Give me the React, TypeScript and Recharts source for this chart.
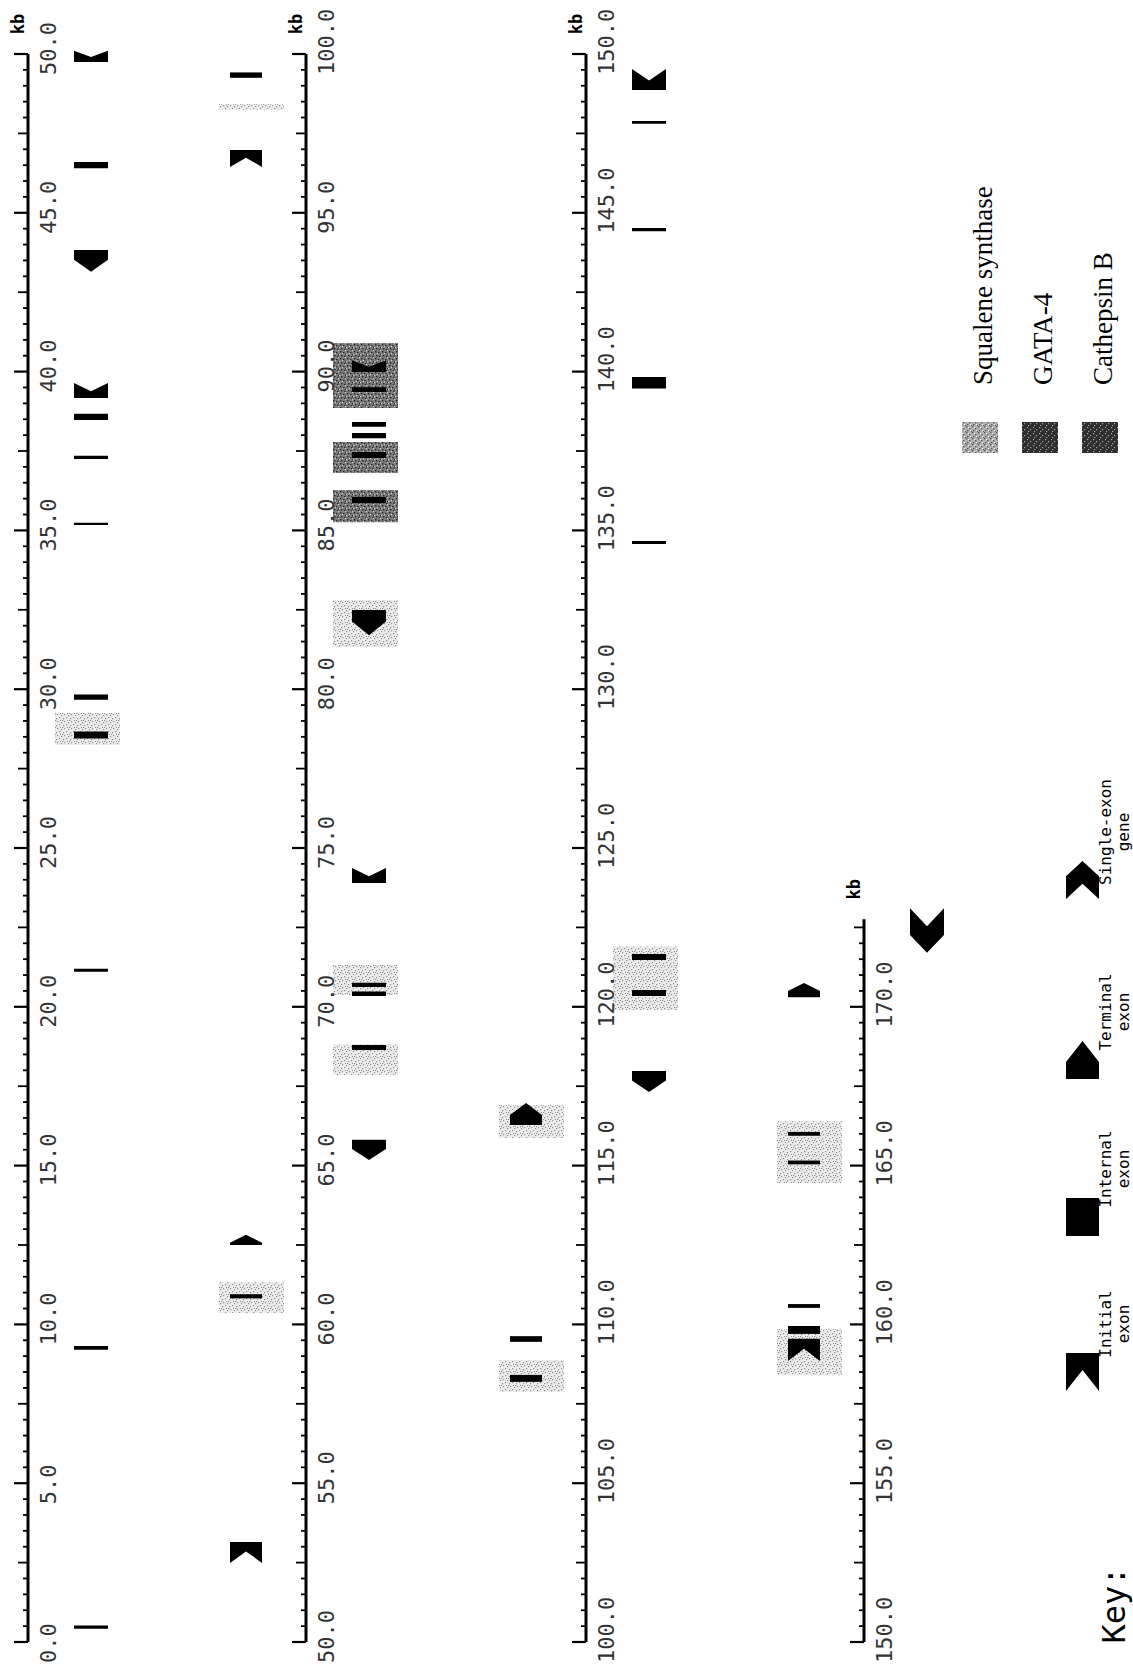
import React from 'react';
import { ComposedChart, XAxis, YAxis, ReferenceArea } from 'recharts';

type Kind = 'initial' | 'internal' | 'terminal' | 'single';
type Gene = 'sq' | 'gata' | 'cat';
type Exon = [number, number, Kind];

// kb windows drawn as separate rows (rotated page)
const trackStarts = [0, 50, 100, 150];
const trackEnds = [50, 100, 150, 172.76];

// predicted exons on the forward strand [start kb, end kb, kind]
const plusExons: Exon[] = [
  [52.49, 53.15, 'initial'],
  [60.82, 60.95, 'internal'],
  [62.5, 62.82, 'terminal'],
  [96.44, 96.98, 'initial'],
  [99.25, 99.42, 'internal'],
  [108.19, 108.41, 'internal'],
  [109.45, 109.63, 'internal'],
  [116.28, 116.97, 'terminal'],
  [158.85, 159.55, 'initial'],
  [159.7, 159.95, 'internal'],
  [160.52, 160.64, 'internal'],
  [165.04, 165.16, 'internal'],
  [165.94, 166.06, 'internal'],
  [170.3, 170.75, 'terminal'],
];

// predicted exons on the reverse strand
const minusExons: Exon[] = [
  [0.42, 0.52, 'internal'],
  [9.2, 9.32, 'internal'],
  [21.1, 21.2, 'internal'],
  [28.45, 28.67, 'internal'],
  [29.67, 29.83, 'internal'],
  [35.17, 35.24, 'internal'],
  [37.25, 37.35, 'internal'],
  [38.48, 38.67, 'internal'],
  [39.17, 39.64, 'initial'],
  [43.14, 43.83, 'terminal'],
  [46.4, 46.6, 'internal'],
  [49.75, 50.1, 'initial'],
  [65.18, 65.81, 'terminal'],
  [68.64, 68.8, 'internal'],
  [70.34, 70.48, 'internal'],
  [70.62, 70.76, 'internal'],
  [73.9, 74.37, 'initial'],
  [81.7, 82.49, 'terminal'],
  [85.86, 86.05, 'internal'],
  [87.28, 87.47, 'internal'],
  [87.9, 88.07, 'internal'],
  [88.26, 88.41, 'internal'],
  [89.36, 89.51, 'internal'],
  [89.99, 90.36, 'initial'],
  [117.32, 117.98, 'terminal'],
  [120.34, 120.53, 'internal'],
  [121.47, 121.66, 'internal'],
  [134.57, 134.67, 'internal'],
  [139.47, 139.83, 'internal'],
  [144.42, 144.52, 'internal'],
  [147.8, 147.89, 'internal'],
  [148.87, 149.53, 'initial'],
  [171.7, 173.1, 'single'],
];

// homology boxes [start kb, end kb, gene]
const plusBoxes: [number, number, Gene][] = [
  [60.36, 61.33, 'sq'],
  [98.25, 98.42, 'sq'],
  [107.87, 108.88, 'sq'],
  [115.87, 116.9, 'sq'],
  [158.4, 159.85, 'sq'],
  [164.45, 166.4, 'sq'],
];
const minusBoxes: [number, number, Gene][] = [
  [28.24, 29.25, 'sq'],
  [67.85, 68.81, 'sq'],
  [70.37, 71.32, 'sq'],
  [81.33, 82.81, 'sq'],
  [85.26, 86.27, 'gata'],
  [86.81, 87.78, 'gata'],
  [88.85, 90.9, 'cat'],
  [119.9, 121.9, 'sq'],
];

const geneLabels: Record<Gene, string> = { sq: 'Squalene synthase', gata: 'GATA-4', cat: 'Cathepsin B' };
const geneOrder: Gene[] = ['sq', 'gata', 'cat'];

const keyKinds: Kind[] = ['initial', 'internal', 'terminal', 'single'];
const keyLabels = [['Initial', 'exon'], ['Internal', 'exon'], ['Terminal', 'exon'], ['Single-exon', 'gene']];

const axisX = [28, 306, 586, 864];
const PLOT_TOP = 54;
const PLOT_BOTTOM = 1642;
const LEFT_W = 100;
const RIGHT_W = 130;
const MONO = '"DejaVu Sans Mono", monospace';

function exonPoints(kind: Kind, minus: boolean, x: number, y: number, w: number, h: number) {
  const r = x + w;
  const b = y + h;
  const m = x + w / 2;
  if (kind === 'internal') return `${x},${y} ${r},${y} ${r},${b} ${x},${b}`;
  if (kind === 'initial') {
    const d = h * 0.55;
    return minus
      ? `${x},${y} ${m},${y + d} ${r},${y} ${r},${b} ${x},${b}`
      : `${x},${y} ${r},${y} ${r},${b} ${m},${b - d} ${x},${b}`;
  }
  if (kind === 'terminal') {
    const d = Math.min(h, Math.max(h * 0.55, 8));
    return minus
      ? `${x},${y} ${r},${y} ${r},${b - d} ${m},${b} ${x},${b - d}`
      : `${x},${y + d} ${m},${y} ${r},${y + d} ${r},${b} ${x},${b}`;
  }
  const d = h * 0.4;
  return minus
    ? `${x},${y} ${m},${y + d} ${r},${y} ${r},${b - d} ${m},${b} ${x},${b - d}`
    : `${x},${y + d} ${m},${y} ${r},${y + d} ${r},${b} ${m},${b - d} ${x},${b}`;
}

// stippled fills, like the scanned halftone
const Patterns = () => (
  <svg width={0} height={0} style={{ position: 'absolute' }}>
    <defs>
      <pattern id="pat-sq" width={7} height={7} patternUnits="userSpaceOnUse">
        <rect width={7} height={7} fill="#ececec" />
        {[[0, 1], [3, 0], [5, 3], [2, 4], [6, 6], [1, 6]].map(([x, y], i) => (
          <rect key={i} x={x} y={y} width={1.2} height={1.2} fill="#8c8c8c" />
        ))}
      </pattern>
      <pattern id="pat-dark" width={7} height={7} patternUnits="userSpaceOnUse">
        <rect width={7} height={7} fill="#7c7c7c" />
        {[[1, 1], [4, 2], [2, 5], [6, 4], [5, 6]].map(([x, y], i) => (
          <rect key={i} x={x} y={y} width={1.4} height={1.4} fill="#262626" />
        ))}
        {[[3, 3], [0, 4], [6, 0]].map(([x, y], i) => (
          <rect key={`w${i}`} x={x} y={y} width={1.2} height={1.2} fill="#d0d0d0" />
        ))}
      </pattern>
      <pattern id="sw-sq" width={6} height={6} patternUnits="userSpaceOnUse">
        <rect width={6} height={6} fill="#b0b0b0" />
        {[[0, 0], [3, 2], [1, 4], [5, 5]].map(([x, y], i) => (
          <rect key={i} x={x} y={y} width={1.3} height={1.3} fill="#505050" />
        ))}
        {[[2, 1], [4, 4]].map(([x, y], i) => (
          <rect key={`w${i}`} x={x} y={y} width={1.2} height={1.2} fill="#f2f2f2" />
        ))}
      </pattern>
      <pattern id="sw-dark" width={6} height={6} patternUnits="userSpaceOnUse">
        <rect width={6} height={6} fill="#2e2e2e" />
        {[[1, 1], [4, 3], [2, 5]].map(([x, y], i) => (
          <rect key={i} x={x} y={y} width={1.2} height={1.2} fill="#a8a8a8" />
        ))}
      </pattern>
    </defs>
  </svg>
);

const boxFill: Record<Gene, string> = { sq: 'url(#pat-sq)', gata: 'url(#pat-dark)', cat: 'url(#pat-dark)' };
const swatchFill: Record<Gene, string> = { sq: 'url(#sw-sq)', gata: 'url(#sw-dark)', cat: 'url(#sw-dark)' };

const KbTick = (props: any) => {
  const { x, y, payload } = props;
  const v = payload.value as number;
  const major = Math.abs(v % 5) < 1e-6;
  const mid = Math.abs(v % 2.5) < 1e-6;
  const len = major ? 14 : mid ? 10 : 5;
  return (
    <g>
      <line x1={x - len} x2={x} y1={y} y2={y} stroke="#000" strokeWidth={major ? 2.2 : 1.8} />
      {major && (
        <text transform={`translate(${x + 28},${y + 21}) rotate(-90)`} textAnchor="start" fontFamily={MONO} fontSize={22} fill="#333">
          {v.toFixed(1)}
        </text>
      )}
    </g>
  );
};

const Track = ({ idx }: { idx: number }) => {
  const start = trackStarts[idx];
  const end = trackEnds[idx];
  const pxPerKb = (PLOT_BOTTOM - PLOT_TOP) / 50;
  const top = PLOT_BOTTOM - (end - start) * pxPerKb;
  const ticks: number[] = [];
  for (let v = start; v <= end + 1e-6; v += 0.5) ticks.push(v);
  const inTrack = (s: number) => s >= start && s < end;
  const pe = plusExons.filter((e) => inTrack(e[0]));
  const me = minusExons.filter((e) => inTrack(e[0]));
  const pb = plusBoxes.filter((e) => inTrack(e[0]));
  const mb = minusBoxes.filter((e) => inTrack(e[0]));
  const rows = ticks.map((v) => ({ x: 0, kb: v }));
  const lane = { plusBox: [-87, -22], plusExon: [-76, -44], minusBox: [27, 92], minusExon: [46, 80] };
  return (
    <div style={{ position: 'absolute', left: axisX[idx] - LEFT_W, top: 0 }}>
      <ComposedChart data={rows} width={LEFT_W + RIGHT_W} height={1670} margin={{ top, right: 0, bottom: 1670 - PLOT_BOTTOM, left: 0 }}>
        <XAxis type="number" dataKey="x" domain={[0, RIGHT_W]} allowDataOverflow hide />
        <YAxis
          type="number"
          dataKey="kb"
          domain={[start, end]}
          allowDataOverflow
          ticks={ticks}
          interval={0}
          width={LEFT_W}
          tickSize={0}
          tickMargin={0}
          tickLine={false}
          axisLine={{ stroke: '#000', strokeWidth: 3 }}
          tick={<KbTick />}
          label={{
            value: 'kb',
            content: (p: any) => {
              const vb = p.viewBox || {};
              const ax = (vb.x ?? 0) + (vb.width ?? LEFT_W);
              return (
                <text transform={`translate(${ax - 4},${(vb.y ?? top) - 30}) rotate(-90)`} textAnchor="middle" fontFamily={MONO} fontWeight="bold" fontSize={17} fill="#000">
                  kb
                </text>
              );
            },
          }}
        />
        {pb.map((b, i) => (
          <ReferenceArea key={`pb${i}`} x1={lane.plusBox[0]} x2={lane.plusBox[1]} y1={b[0]} y2={b[1]} ifOverflow="visible" fill={boxFill[b[2]]} fillOpacity={1} stroke="none" />
        ))}
        {mb.map((b, i) => (
          <ReferenceArea key={`mb${i}`} x1={lane.minusBox[0]} x2={lane.minusBox[1]} y1={b[0]} y2={b[1]} ifOverflow="visible" fill={boxFill[b[2]]} fillOpacity={1} stroke="none" />
        ))}
        {pe.map((e, i) => (
          <ReferenceArea
            key={`pe${i}`}
            x1={lane.plusExon[0]}
            x2={lane.plusExon[1]}
            y1={e[0]}
            y2={e[1]}
            ifOverflow="visible"
            shape={(p: any) => <polygon points={exonPoints(e[2], false, p.x, p.y, p.width, p.height)} fill="#000" />}
          />
        ))}
        {me.map((e, i) => (
          <ReferenceArea
            key={`me${i}`}
            x1={lane.minusExon[0]}
            x2={lane.minusExon[1]}
            y1={e[0]}
            y2={e[1]}
            ifOverflow="visible"
            shape={(p: any) => <polygon points={exonPoints(e[2], true, p.x, p.y, p.width, p.height)} fill="#000" />}
          />
        ))}
      </ComposedChart>
    </div>
  );
};

const Legend = () => (
  <svg width={1133} height={1670} style={{ position: 'absolute', left: 0, top: 0, pointerEvents: 'none' }}>
    {geneOrder.map((g, i) => {
      const x = 962 + i * 60;
      return (
        <g key={g}>
          <rect x={x} y={422} width={36} height={31} fill={swatchFill[g]} />
          <text transform={`translate(${x + 30},385) rotate(-90)`} fontFamily='"Liberation Serif", serif' fontSize={27} fill="#000">
            {geneLabels[g]}
          </text>
        </g>
      );
    })}
    <text transform="translate(1125,1605) rotate(-90)" textAnchor="middle" fontFamily={MONO} fontSize={32} fill="#000">
      Key:
    </text>
    {keyKinds.map((k, i) => {
      const cy = [1372, 1217, 1060, 880][i];
      return (
        <g key={k}>
          <polygon points={exonPoints(k, false, 1066, cy - 19, 33, 38)} fill="#000" />
          <text transform={`translate(1111,${cy - 48}) rotate(-90)`} textAnchor="middle" fontFamily={MONO} fontSize={16} fill="#000">
            {keyLabels[i][0]}
          </text>
          <text transform={`translate(1129,${cy - 48}) rotate(-90)`} textAnchor="middle" fontFamily={MONO} fontSize={16} fill="#000">
            {keyLabels[i][1]}
          </text>
        </g>
      );
    })}
  </svg>
);

export default function App() {
  return (
    <div style={{ position: 'absolute', left: 0, top: 0, width: 1133, height: 1670, background: '#fff', overflow: 'hidden' }}>
      <Patterns />
      {trackStarts.map((_, i) => (
        <Track key={i} idx={i} />
      ))}
      <Legend />
    </div>
  );
}
